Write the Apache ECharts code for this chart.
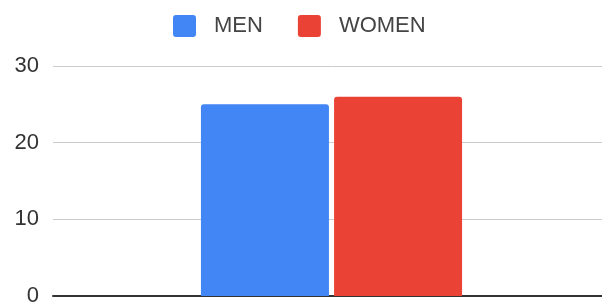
<!DOCTYPE html>
<html>
<head>
<meta charset="utf-8">
<script src="https://cdn.jsdelivr.net/npm/echarts@6/dist/echarts.min.js"></script>
<style>
  html, body { margin: 0; padding: 0; background: #fff; overflow: hidden; }
  #main { width: 610px; height: 307px; }
</style>
</head>
<body>
<div id="main"></div>
<script>
let categories = ['']
let seriesNames = ['MEN', 'WOMEN']
let menValues = [25]
let womenValues = [26]
let yTicks = [0, 10, 20, 30]
let colors = ['#4285F4', '#EA4335']

// the original plot runs slightly past the right edge, so the canvas is a bit wider than the window
var myChart = echarts.init(document.getElementById('main'))

// small-radius square like the original legend keys
let keyIcon = 'path://M3,0 H20 A3,3 0 0 1 23,3 V19 A3,3 0 0 1 20,22 H3 A3,3 0 0 1 0,19 V3 A3,3 0 0 1 3,0 Z'

let option = {
    animation: false,
    legend: {
        data: seriesNames,
        top: 10,
        left: 168,
        icon: keyIcon,
        itemWidth: 23,
        itemHeight: 22,
        itemGap: 35,
        textStyle: {
            fontFamily: 'Liberation Sans, Arial',
            fontSize: 22,
            color: '#444',
            padding: [0, 0, 0, 13]
        }
    },
    grid: {
        left: 53,
        right: 0,
        top: 66,
        bottom: 9
    },
    xAxis: {
        type: 'category',
        data: categories,
        axisLine: { lineStyle: { color: '#333', width: 2 } },
        axisTick: { show: false },
        axisLabel: { show: false }
    },
    yAxis: {
        type: 'value',
        min: yTicks[0],
        max: yTicks[yTicks.length - 1],
        interval: 10,
        axisLabel: {
            fontFamily: 'Liberation Sans, Arial',
            fontSize: 22,
            color: '#333',
            margin: 14
        },
        splitLine: { lineStyle: { color: '#ccc', width: 1 } }
    },
    series: [
        {
            name: seriesNames[0],
            type: 'bar',
            data: menValues,
            barWidth: 128,
            barGap: '4%',
            itemStyle: { color: colors[0], borderRadius: [3, 3, 0, 0] }
        },
        {
            name: seriesNames[1],
            type: 'bar',
            data: womenValues,
            barWidth: 128,
            itemStyle: { color: colors[1], borderRadius: [3, 3, 0, 0] }
        }
    ]
}

myChart.setOption(option)
</script>
</body>
</html>
